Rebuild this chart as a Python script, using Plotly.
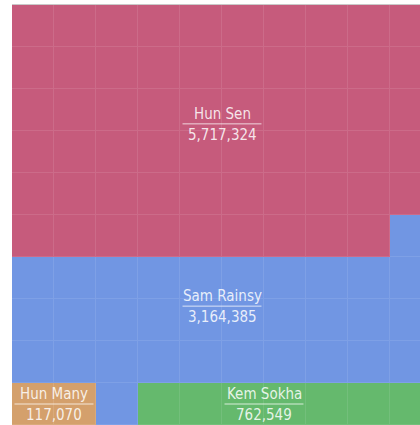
import plotly.graph_objects as go

# candidates and votes (2013 Cambodia)
names = ['Hun Sen', 'Sam Rainsy', 'Hun Many', 'Kem Sokha']
votes = [5717324, 3164385, 117070, 762549]
colors = ['#c65b7c', '#7196e3', '#d4a06c', '#65b96d']
grid_colors = ['#cc6b89', '#7ea0e6', '#d9aa7b', '#73bf7b']

# waffle grid, one letter per cell (row 0 at top)
# A = Hun Sen, B = Sam Rainsy, C = Hun Many, D = Kem Sokha
grid_rows = [
    'AAAAAAAAAA',
    'AAAAAAAAAA',
    'AAAAAAAAAA',
    'AAAAAAAAAA',
    'AAAAAAAAAA',
    'AAAAAAAAAB',
    'BBBBBBBBBB',
    'BBBBBBBBBB',
    'BBBBBBBBBB',
    'CCBDDDDDDD',
]

# where each label sits (cell units: x from left, y from top)
label_x = [5.0, 5.0, 1.0, 6.0]
label_y = [2.83, 7.17, 9.5, 9.5]

codes = {'A': 0, 'B': 1, 'C': 2, 'D': 3}
z = [[codes[c] for c in row] for row in grid_rows]
ncols = len(grid_rows[0])
nrows = len(grid_rows)
xs = [i + 0.5 for i in range(ncols)]
ys = [j + 0.5 for j in range(nrows)]


def discrete_scale(cols):
    n = len(cols)
    scale = []
    for i, c in enumerate(cols):
        scale.append([i / n, c])
        scale.append([(i + 1) / n, c])
    return scale


fig = go.Figure()

# lighter layer underneath shows through the gaps as faint grid lines
fig.add_trace(go.Heatmap(x=xs, y=ys, z=z, zmin=-0.5, zmax=3.5,
                         colorscale=discrete_scale(grid_colors),
                         showscale=False, hoverinfo='skip'))
fig.add_trace(go.Heatmap(x=xs, y=ys, z=z, zmin=-0.5, zmax=3.5,
                         colorscale=discrete_scale(colors),
                         xgap=1, ygap=1, showscale=False,
                         customdata=[[names[v] for v in r] for r in z],
                         hovertemplate='%{customdata}<extra></extra>'))

lab_font = dict(family='Liberation Sans Narrow, DejaVu Sans Condensed, Arial Narrow, sans-serif',
                size=15, color='rgba(255,255,255,0.85)')

for nm, v, lx, ly in zip(names, votes, label_x, label_y):
    fig.add_annotation(x=lx, y=ly, text=nm, showarrow=False, font=lab_font,
                       xanchor='center', yanchor='bottom', yshift=-1)
    fig.add_annotation(x=lx, y=ly, text=f'{v:,}', showarrow=False, font=lab_font,
                       xanchor='center', yanchor='top', yshift=0)
    fig.add_shape(type='line', x0=lx - 0.94, x1=lx + 0.94, y0=ly, y1=ly,
                  line=dict(color='rgba(255,255,255,0.75)', width=1))

fig.update_xaxes(range=[0, 408 / 42], showgrid=False, zeroline=False,
                 showticklabels=False, ticks='', side='top',
                 showline=True, linecolor='#c9c9c9', linewidth=1)
fig.update_yaxes(range=[10, 0], showgrid=False, zeroline=False,
                 showticklabels=False, ticks='')

fig.update_layout(width=420, height=425,
                  margin=dict(l=12, r=0, t=5, b=0),
                  paper_bgcolor='white', plot_bgcolor='white',
                  showlegend=False)

# page body has an 8px default margin, drop it so the chart sits at 0,0
fig.write_html("out.html", config={'displayModeBar': False},
               post_script="document.body.style.margin='0';")
